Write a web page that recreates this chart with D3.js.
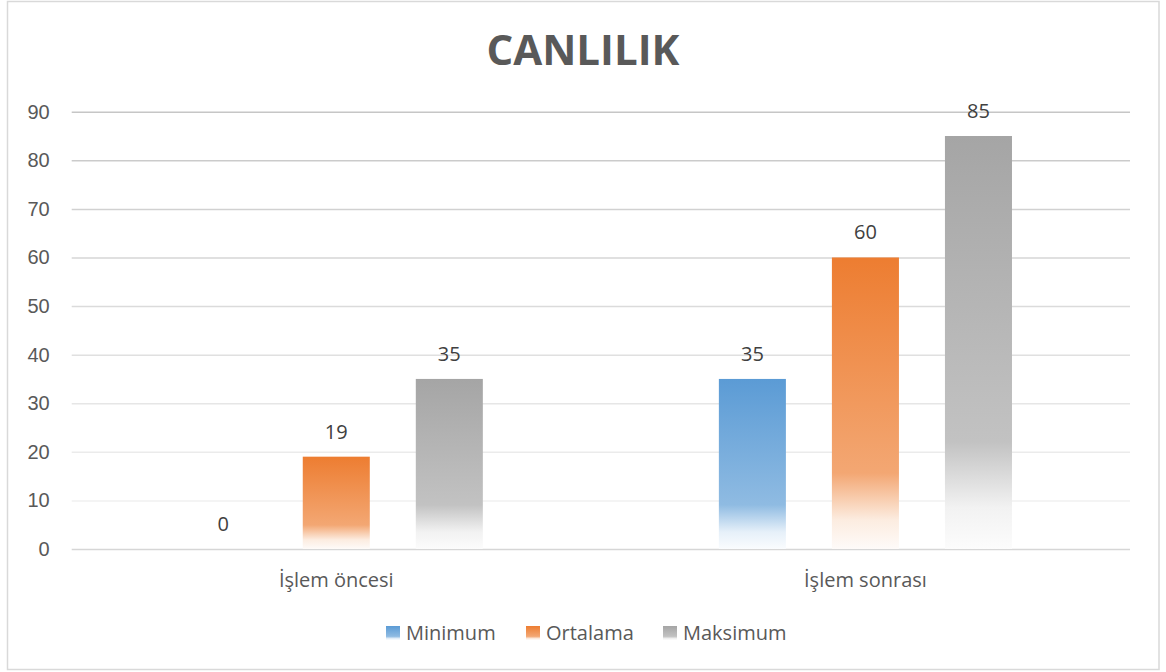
<!DOCTYPE html>
<html lang="tr">
<head>
<meta charset="utf-8">
<title>Canlılık</title>
<script src="https://d3js.org/d3.v7.min.js"></script>
<style>
  body { margin: 0; background: #fff; }
  svg { font-family: "Open Sans", sans-serif; }
  .tick text { fill: #595959; font-size: 20px; }
  .label { fill: #404040; font-size: 20px; text-anchor: middle; }
  .cat { fill: #595959; font-size: 20px; text-anchor: middle; }
  .legend text { fill: #595959; font-size: 20px; }
</style>
</head>
<body>
<script>
// data
var categories = ["İşlem öncesi", "İşlem sonrası"];
var seriesNames = ["Minimum", "Ortalama", "Maksimum"];
var minimum = [0, 35];
var ortalama = [19, 60];
var maksimum = [35, 85];
var yTicks = [0, 10, 20, 30, 40, 50, 60, 70, 80, 90];
var colors = ["#5b9bd5", "#ed7d31", "#a5a5a5"];

var w = 1166, h = 672;
var margin = {left: 71.7, right: 36, top: 111.7, bottom: 123};

var svg = d3.select("body").append("svg")
    .attr("width", w)
    .attr("height", h);

// outer border
svg.append("rect")
    .attr("x", 7.5).attr("y", 1.5)
    .attr("width", 1151.5).attr("height", 668)
    .attr("fill", "#fff")
    .attr("stroke", "#d9d9d9")
    .attr("stroke-width", 1.5);

// title
svg.append("text")
    .attr("x", 583).attr("y", 65)
    .attr("text-anchor", "middle")
    .style("font-size", "42px")
    .style("font-weight", "bold")
    .style("fill", "#595959")
    .text("CANLILIK");

var x0 = d3.scaleBand()
    .domain(categories)
    .range([margin.left, w - margin.right])
    .padding(0);

var x1 = d3.scaleBand()
    .domain(seriesNames)
    .range([0, x0.bandwidth()])
    .paddingInner(0.407)
    .paddingOuter(1.044);

var y = d3.scaleLinear()
    .domain([0, 90])
    .range([h - margin.bottom, margin.top]);

// gradients for bars (fade to white at the bottom)
var defs = svg.append("defs");
colors.forEach(function(c, i) {
  var g = defs.append("linearGradient")
      .attr("id", "grad" + i)
      .attr("x1", 0).attr("y1", 0)
      .attr("x2", 0).attr("y2", 1);
  var white = d3.interpolateRgb(c, "#ffffff");
  g.append("stop").attr("offset", "0%").attr("stop-color", c);
  g.append("stop").attr("offset", "74%").attr("stop-color", white(0.32));
  g.append("stop").attr("offset", "90%").attr("stop-color", white(0.85));
  g.append("stop").attr("offset", "100%").attr("stop-color", white(0.97));
});

// gridlines, lighter towards the bottom
var gridColor = d3.scaleLinear().domain([10, 90]).range(["#f0f0f0", "#c6c6c6"]);

var yAxis = svg.append("g")
    .attr("transform", "translate(" + margin.left + ",0)")
    .call(d3.axisLeft(y).tickValues(yTicks).tickSize(-(w - margin.left - margin.right)).tickPadding(22));

yAxis.select(".domain").remove();
yAxis.selectAll(".tick line")
    .attr("stroke", function(d) { return d === 0 ? "#d6d6d6" : gridColor(d); })
    .attr("stroke-width", 1.5);
yAxis.selectAll(".tick text")
    .attr("font-size", null)
    .attr("font-family", null);

// bars
var seriesData = [minimum, ortalama, maksimum];
var groups = svg.selectAll("g.group")
    .data(categories)
    .enter().append("g")
    .attr("class", "group")
    .attr("transform", function(d) { return "translate(" + x0(d) + ",0)"; });

groups.each(function(cat, ci) {
  var g = d3.select(this);
  var rows = seriesNames.map(function(s, si) { return {s: s, si: si, v: seriesData[si][ci]}; });
  g.selectAll("rect")
    .data(rows)
    .enter().append("rect")
    .attr("x", function(d) { return x1(d.s); })
    .attr("y", function(d) { return y(d.v); })
    .attr("width", x1.bandwidth())
    .attr("height", function(d) { return y(0) - y(d.v); })
    .attr("fill", function(d) { return "url(#grad" + d.si + ")"; });
  g.selectAll("text.label")
    .data(rows)
    .enter().append("text")
    .attr("class", "label")
    .attr("x", function(d) { return x1(d.s) + x1.bandwidth() / 2; })
    .attr("y", function(d) { return y(d.v) - 18; })
    .text(function(d) { return d.v; });
});

// category labels
svg.selectAll("text.cat")
    .data(categories)
    .enter().append("text")
    .attr("class", "cat")
    .attr("x", function(d) { return x0(d) + x0.bandwidth() / 2; })
    .attr("y", 587)
    .text(function(d) { return d; });

// legend
var legendX = [386, 526, 663];
var legend = svg.selectAll("g.legend")
    .data(seriesNames)
    .enter().append("g")
    .attr("class", "legend")
    .attr("transform", function(d, i) { return "translate(" + legendX[i] + ",626)"; });

legend.append("rect")
    .attr("width", 14).attr("height", 14)
    .attr("fill", function(d, i) { return "url(#grad" + i + ")"; });

legend.append("text")
    .attr("x", 20).attr("y", 14)
    .text(function(d) { return d; });
</script>
</body>
</html>
